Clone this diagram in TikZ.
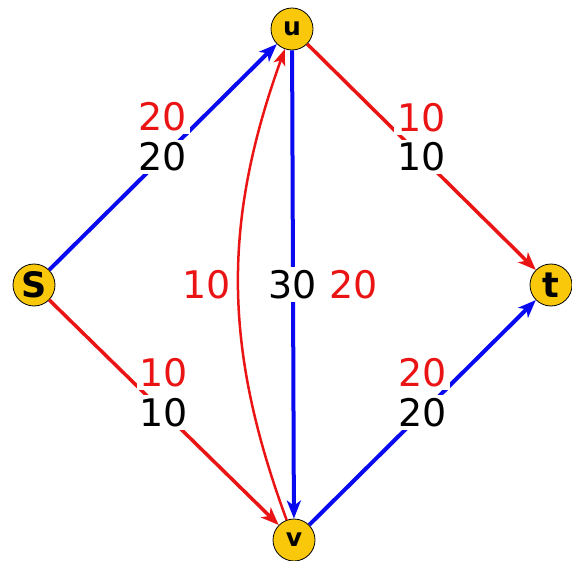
\documentclass[tikz,border=0pt]{standalone}
\usepackage{fontspec}
\setmainfont{DejaVu Sans}
\usetikzlibrary{arrows.meta,positioning}

\definecolor{ouro}{RGB}{250,200,10}
\definecolor{vermelho}{RGB}{235,20,20}
\definecolor{azulforte}{RGB}{10,10,240}

\begin{document}
\begin{tikzpicture}[
  x=1pt, y=-1pt,
  font=\fontsize{38}{42}\selectfont,
  vertice/.style={circle, draw=black, thick, fill=ouro, minimum size=42pt,
                  inner sep=0pt, font=\bfseries\fontsize{25}{27}\selectfont},
  grande/.style={font=\bfseries\fontsize{35}{37}\selectfont},
  azul/.style={draw=azulforte, line width=4pt, -{Stealth[length=18pt,width=14pt,inset=5pt]}},
  verm/.style={draw=vermelho, line width=3.5pt, -{Stealth[length=18pt,width=14pt,inset=5pt]}},
  rotulo/.style={fill=white, inner sep=3pt},
  fluxo/.style={rotulo, text=vermelho}
]
\useasboundingbox (0,0) rectangle (572,561);

\node[vertice, grande] (s) at (34,285) {S};
\node[vertice] (u) at (292,29) {u};
\node[vertice] (v) at (294,540) {v};
\node[vertice, grande] (t) at (551,285) {t};

\draw[azul] (s) -- node[rotulo] (su) {20} (u);
\node[fluxo, above=3pt of su] {20};
\draw[verm] (s) -- node[rotulo] (sv) {10} (v);
\node[fluxo, above=3pt of sv] {10};
\draw[verm] (u) -- node[rotulo] (ut) {10} (t);
\node[fluxo, above=3pt of ut] {10};
\draw[azul] (v) -- node[rotulo] (vt) {20} (t);
\node[fluxo, above=3pt of vt] {20};
\draw[azul] (u) -- node[rotulo] (uv) {30} (v);
\node[fluxo, right=4pt of uv] {20};
\draw[verm, line width=2.5pt, -{Stealth[length=16pt,width=12pt,inset=4pt]}]
  (v) to[bend left=20] node[fluxo, left=3pt] {10} (u);
\end{tikzpicture}
\end{document}
